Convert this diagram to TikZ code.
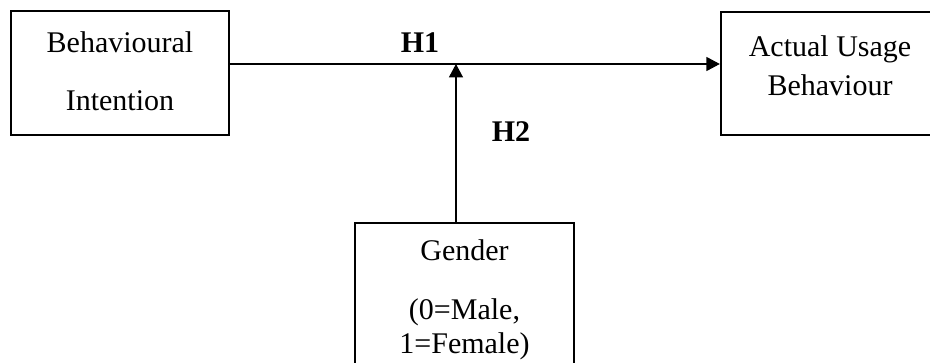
\documentclass[tikz,border=0pt]{standalone}
\usepackage{fontspec}
\setmainfont{Liberation Serif}
\usetikzlibrary{arrows.meta}

\begin{document}
\begin{tikzpicture}[x=0.75pt,y=-0.75pt,
    font=\fontsize{22.5}{27}\selectfont,
    varbox/.style={draw,line width=1.8pt,minimum width=163.5pt,align=center,inner sep=0pt},
    link/.style={line width=0.8pt,-{Triangle[length=10pt,width=10.5pt]}},
    hyp/.style={font=\fontsize{22.5}{27}\selectfont\bfseries}]
    \useasboundingbox (0,0) rectangle (930,363);
    \clip (0,0) rectangle (930,363);
    \node[varbox,minimum height=93pt,text depth=3pt] (intent) at (120,73) {Behavioural\\[16.5pt]Intention};
    \node[varbox,minimum height=92.25pt,text depth=11.5pt] (usage) at (830,73.5) {Actual Usage\\[2.25pt]Behaviour};
    \node[varbox,minimum width=164.25pt,minimum height=115.5pt] (gender) at (464.5,300) {Gender\\[17.25pt](0=Male,\\[-1.5pt]1=Female)};
    \coordinate (start) at ([yshift=6.75pt]intent.east);
    \coordinate (stop) at ([yshift=6.75pt]intent.east -| usage.west);
    \coordinate (mod) at ([xshift=-6.4pt]gender.north |- start);
    \draw[link] (start) -- (stop);
    \draw[link] ([xshift=-6.4pt]gender.north) -- (mod);
    \node[hyp] (h1) at (420,43) {H1};
    \node[hyp] (h2) at (511,132) {H2};
\end{tikzpicture}
\end{document}
